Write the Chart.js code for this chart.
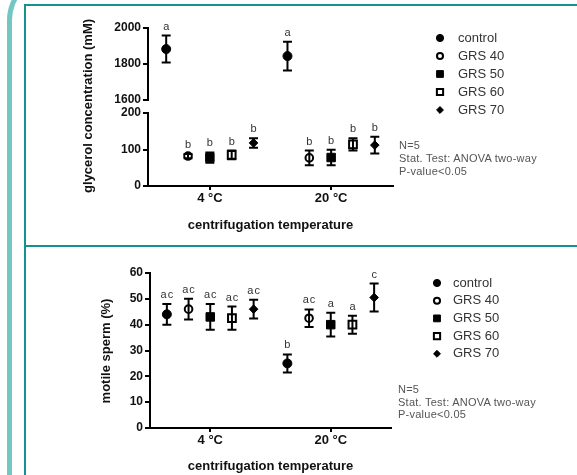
<!DOCTYPE html>
<html>
<head>
<meta charset="utf-8">
<script src="https://cdn.jsdelivr.net/npm/chart.js@4.4.1/dist/chart.umd.min.js"></script>
<style>
html, body { margin: 0; padding: 0; background: #fff; }
#page { position: relative; width: 577px; height: 475px; overflow: hidden; font-family: Arial, "Liberation Sans", sans-serif; }
#page canvas { position: absolute; left: 0; top: 0; }
.frame-outer { position: absolute; left: 7px; top: -26px; width: 700px; height: 700px; border-left: 5px solid #72c7c2; border-top: 5px solid #72c7c2; border-top-left-radius: 46px; }
.frame-inner { position: absolute; left: 24px; top: 4px; width: 700px; height: 700px; border-left: 2px solid #16928d; border-top: 2px solid #16928d; }
.frame-mid { position: absolute; left: 26px; top: 245px; width: 560px; height: 2px; background: #16928d; }
.ytitle { position: absolute; transform: translate(-50%, -50%) rotate(-90deg); white-space: nowrap; font-weight: bold; font-size: 13px; color: #111; }
.stats { position: absolute; font-size: 11px; letter-spacing: 0.25px; color: #555; white-space: nowrap; }
</style>
</head>
<body>
<div id="page">
  <div class="frame-outer"></div>
  <div class="frame-inner"></div>
  <div class="frame-mid"></div>
  <canvas id="glyHigh" width="577" height="475"></canvas>
  <canvas id="glyLow" width="577" height="475"></canvas>
  <canvas id="motile" width="577" height="475"></canvas>
  <div class="ytitle" style="left:87px;top:106px">glycerol concentration (mM)</div>
  <div class="ytitle" style="left:105px;top:351px">motile sperm (%)</div>
  <div class="stats" style="left:399px;top:139px;line-height:13px">N=5<br>Stat. Test: ANOVA two-way<br>P-value&lt;0.05</div>
  <div class="stats" style="left:398px;top:383px;line-height:12.5px">N=5<br>Stat. Test: ANOVA two-way<br>P-value&lt;0.05</div>
</div>
<script>
const temperatures = ['4 °C', '20 °C'];
const treatments = ['control', 'GRS 40', 'GRS 50', 'GRS 60', 'GRS 70'];

// rows = treatments, columns = temperatures
const glycerolMean = [[1883, 1844], [82, 77], [78, 78], [85, 114], [118, 112]];
const glycerolSem = [[75, 80], [6, 20], [14, 21], [12, 17], [13, 23]];
const glycerolLetters = [['a', 'a'], ['b', 'b'], ['b', 'b'], ['b', 'b'], ['b', 'b']];

const motileMean = [[44, 25], [46, 42.5], [43, 40], [42.5, 40], [46, 50.5]];
const motileSem = [[4, 3.5], [4, 3.4], [5, 4.6], [4.5, 3.5], [3.6, 5.4]];
const motileLetters = [['ac', 'b'], ['ac', 'ac'], ['ac', 'a'], ['ac', 'a'], ['ac', 'c']];

const FONT = 'Arial, "Liberation Sans", sans-serif';
Chart.defaults.font.family = FONT;
Chart.defaults.animation = false;

const markerStyles = [
  { pointStyle: 'circle', radius: 4.5, fill: '#000', border: 1 },
  { pointStyle: 'circle', radius: 3.8, fill: 'rgba(0,0,0,0)', border: 2 },
  { pointStyle: 'rect', radius: 6, fill: '#000', border: 1 },
  { pointStyle: 'rect', radius: 5.5, fill: 'rgba(0,0,0,0)', border: 2 },
  { pointStyle: 'rectRot', radius: 4.3, fill: '#000', border: 1 }
];
const groupGap = 0.18;

function buildDatasets(mean, sem, letters, lo, hi) {
  return treatments.map((name, i) => ({
    label: name,
    data: temperatures
      .map((t, j) => ({ x: j + 1 + (i - 2) * groupGap, y: mean[i][j], err: sem[i][j], letter: letters[i][j] }))
      .filter(p => p.y >= lo && p.y <= hi),
    showLine: false,
    pointStyle: markerStyles[i].pointStyle,
    pointRadius: markerStyles[i].radius,
    pointBackgroundColor: markerStyles[i].fill,
    pointBorderColor: '#000',
    pointBorderWidth: markerStyles[i].border
  }));
}

// error bars + significance letters
const errorBars = {
  id: 'errorBars',
  beforeDatasetsDraw(chart) {
    const ctx = chart.ctx;
    const y = chart.scales.y;
    ctx.save();
    ctx.strokeStyle = '#000';
    ctx.lineWidth = 2;
    ctx.fillStyle = '#333';
    ctx.font = '11px ' + FONT;
    ctx.letterSpacing = '1px';
    ctx.textAlign = 'center';
    ctx.textBaseline = 'middle';
    chart.data.datasets.forEach((ds, i) => {
      chart.getDatasetMeta(i).data.forEach((pt, k) => {
        const d = ds.data[k];
        const top = y.getPixelForValue(d.y + d.err);
        const bot = y.getPixelForValue(d.y - d.err);
        ctx.beginPath();
        ctx.moveTo(pt.x, top); ctx.lineTo(pt.x, bot);
        ctx.moveTo(pt.x - 4.5, top); ctx.lineTo(pt.x + 4.5, top);
        ctx.moveTo(pt.x - 4.5, bot); ctx.lineTo(pt.x + 4.5, bot);
        ctx.stroke();
        ctx.fillText(d.letter, pt.x + 0.5, top - 9);
      });
    });
    ctx.restore();
  }
};

const sideLegend = {
  id: 'sideLegend',
  afterDraw(chart, args, opts) {
    if (!opts.show) return;
    const ctx = chart.ctx;
    ctx.save();
    chart.data.datasets.forEach((ds, i) => {
      const yy = opts.top + i * opts.step;
      ctx.fillStyle = ds.pointBackgroundColor;
      ctx.strokeStyle = '#000';
      ctx.lineWidth = ds.pointBorderWidth;
      Chart.helpers.drawPoint(ctx, { pointStyle: ds.pointStyle, radius: ds.pointRadius * 0.8, borderWidth: ds.pointBorderWidth, rotation: 0 }, opts.markerX, yy);
      ctx.fillStyle = '#333';
      ctx.font = '13px ' + FONT;
      ctx.textAlign = 'left';
      ctx.textBaseline = 'middle';
      ctx.fillText(ds.label, opts.textX, yy);
    });
    ctx.restore();
  }
};

function yAxis(min, max, step, width) {
  return {
    type: 'linear', min: min, max: max,
    ticks: { stepSize: step, callback: v => String(v), color: '#111', font: { size: 12, weight: 'bold' }, padding: 2 },
    grid: { drawOnChartArea: false, drawTicks: true, tickLength: 5, color: '#000', lineWidth: 2 },
    border: { display: true, color: '#000', width: 2 },
    afterFit(scale) { scale.width = width; }
  };
}

function xAxis(min, max, show, height) {
  return {
    type: 'linear', min: min, max: max, display: show,
    afterBuildTicks(scale) { scale.ticks = temperatures.map((t, j) => ({ value: j + 1 })); },
    ticks: { callback: v => temperatures[v - 1], autoSkip: false, maxRotation: 0, color: '#111', font: { size: 13, weight: 'bold' }, padding: 1 },
    grid: { drawOnChartArea: false, drawTicks: true, tickLength: 4, color: '#000', lineWidth: 2 },
    border: { display: true, color: '#000', width: 2 },
    title: { display: true, text: 'centrifugation temperature', color: '#111', font: { size: 13, weight: 'bold' }, padding: 0 },
    afterFit(scale) { scale.height = height; }
  };
}

function makeChart(id, datasets, x, y, padding, legendOpts) {
  return new Chart(document.getElementById(id), {
    type: 'scatter',
    data: { datasets: datasets },
    options: {
      responsive: false,
      devicePixelRatio: 1,
      layout: { padding: padding },
      scales: { x: x, y: y },
      plugins: { legend: { display: false }, tooltip: { enabled: false }, sideLegend: legendOpts || { show: false } }
    },
    plugins: [errorBars, sideLegend]
  });
}

// glycerol, upper segment of the broken axis
makeChart('glyHigh', buildDatasets(glycerolMean, glycerolSem, glycerolLetters, 1600, 2000),
  xAxis(0.49, 2.51, false, 0), yAxis(1600, 2000, 200, 148),
  { left: 0, top: 28, right: 184, bottom: 375 });

// glycerol, lower segment
makeChart('glyLow', buildDatasets(glycerolMean, glycerolSem, glycerolLetters, 0, 200),
  xAxis(0.49, 2.51, true, 47), yAxis(0, 200, 100, 148),
  { left: 0, top: 113, right: 184, bottom: 242 },
  { show: true, top: 38, step: 18, markerX: 440, textX: 458 });

// motile sperm
makeChart('motile', buildDatasets(motileMean, motileSem, motileLetters, 0, 60),
  xAxis(0.5, 2.5, true, 46), yAxis(0, 60, 10, 150),
  { left: 0, top: 273, right: 186, bottom: 1 },
  { show: true, top: 283, step: 17.7, markerX: 437, textX: 453 });
</script>
</body>
</html>
